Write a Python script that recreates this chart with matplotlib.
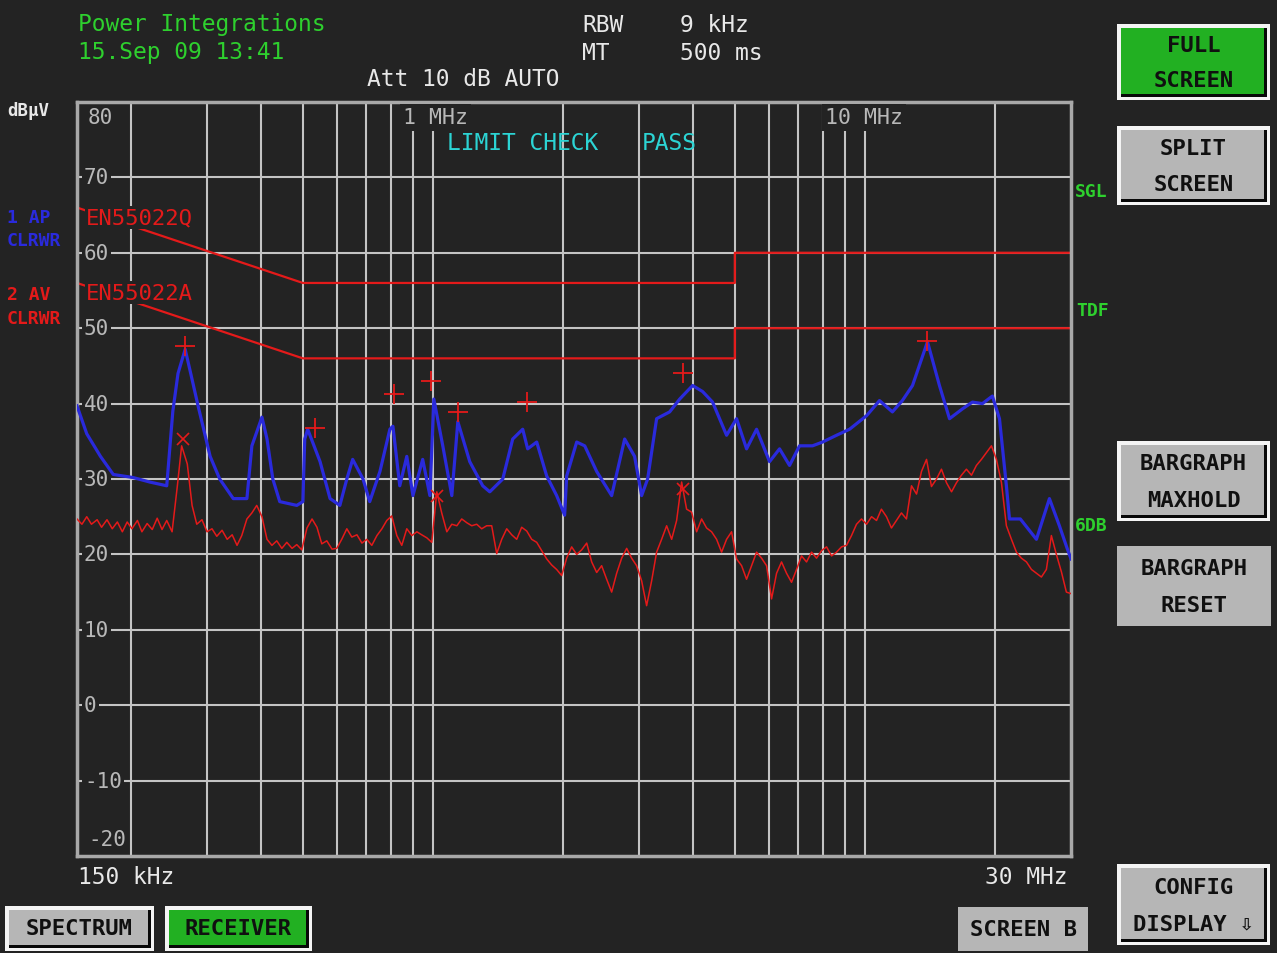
import matplotlib
matplotlib.use("Agg")
import matplotlib.pyplot as plt
from matplotlib.patches import Rectangle
from matplotlib.ticker import NullLocator

# ---------------- data ----------------
# Peak detector trace (1 AP CLRWR), frequency in MHz, level in dBuV
peak_freq_mhz = [0.150, 0.158, 0.170, 0.182, 0.202, 0.221, 0.242, 0.250, 0.257, 0.267,
                 0.275, 0.286, 0.305, 0.321, 0.345, 0.371, 0.381, 0.402, 0.413, 0.426,
                 0.442, 0.484, 0.500, 0.505, 0.513, 0.548, 0.578, 0.609, 0.632, 0.652,
                 0.689, 0.714, 0.754, 0.795, 0.808, 0.838, 0.870, 0.899, 0.947, 0.984,
                 1.005, 1.054, 1.106, 1.142, 1.217, 1.304, 1.354, 1.451, 1.530, 1.614,
                 1.657, 1.739, 1.834, 1.934, 2.018, 2.040, 2.152, 2.246, 2.394, 2.593,
                 2.779, 2.930, 3.042, 3.141, 3.295, 3.532, 3.726, 3.992, 4.210, 4.440,
                 4.784, 5.046, 5.322, 5.614, 6.016, 6.345, 6.692, 7.058, 7.565, 7.979,
                 8.597, 9.215, 10.09, 10.81, 11.58, 12.21, 12.89, 13.96, 14.88, 15.70,
                 16.82, 17.74, 18.71, 19.73, 20.49, 21.26, 21.61, 22.90, 24.95, 26.74,
                 28.20, 29.43, 30.0]
peak_dbuv = [39.7, 36.0, 33.0, 30.6, 30.2, 29.6, 29.1, 39.0, 44.0, 47.2,
             44.0, 39.7, 33.0, 30.0, 27.4, 27.4, 34.4, 38.2, 35.3, 30.0,
             27.0, 26.5, 27.0, 35.3, 36.6, 32.3, 27.4, 26.5, 30.0, 32.6,
             30.0, 27.0, 31.0, 36.6, 37.0, 29.1, 33.0, 27.8, 32.6, 27.8,
             40.6, 34.4, 27.8, 37.6, 32.3, 29.1, 28.3, 30.0, 35.3, 36.6,
             34.0, 34.9, 30.4, 27.8, 25.2, 30.4, 34.9, 34.4, 31.0, 27.8,
             35.3, 33.0, 27.8, 30.0, 38.0, 38.9, 40.6, 42.4, 41.6, 40.2,
             35.8, 38.0, 34.0, 36.6, 32.3, 34.0, 31.8, 34.4, 34.4, 34.9,
             35.8, 36.6, 38.4, 40.4, 38.9, 40.4, 42.4, 48.2, 42.4, 38.0,
             39.3, 40.2, 40.0, 41.0, 38.0, 29.1, 24.7, 24.7, 22.0, 27.4,
             23.8, 20.7, 19.4]

# Average detector trace (2 AV CLRWR)
avg_freq_mhz = [0.150, 0.154, 0.158, 0.162, 0.167, 0.171, 0.176, 0.181, 0.186, 0.191,
                0.196, 0.201, 0.207, 0.212, 0.218, 0.224, 0.230, 0.236, 0.242, 0.249,
                0.256, 0.262, 0.270, 0.277, 0.284, 0.292, 0.300, 0.308, 0.316, 0.325,
                0.334, 0.343, 0.352, 0.361, 0.371, 0.381, 0.391, 0.402, 0.413, 0.424,
                0.435, 0.447, 0.459, 0.472, 0.484, 0.497, 0.511, 0.525, 0.539, 0.553,
                0.568, 0.584, 0.599, 0.615, 0.632, 0.649, 0.667, 0.685, 0.703, 0.722,
                0.742, 0.762, 0.782, 0.803, 0.825, 0.847, 0.870, 0.894, 0.918, 0.942,
                0.968, 0.994, 1.021, 1.048, 1.077, 1.106, 1.136, 1.166, 1.198, 1.230,
                1.263, 1.297, 1.332, 1.368, 1.405, 1.443, 1.482, 1.522, 1.563, 1.605,
                1.649, 1.693, 1.739, 1.786, 1.834, 1.883, 1.934, 1.986, 2.040, 2.095,
                2.152, 2.210, 2.270, 2.331, 2.394, 2.458, 2.525, 2.593, 2.663, 2.735,
                2.809, 2.884, 2.962, 3.042, 3.124, 3.209, 3.295, 3.384, 3.476, 3.570,
                3.666, 3.765, 3.866, 3.971, 4.078, 4.188, 4.301, 4.417, 4.536, 4.659,
                4.784, 4.914, 5.046, 5.183, 5.322, 5.466, 5.614, 5.765, 5.921, 6.081,
                6.245, 6.413, 6.586, 6.764, 6.947, 7.134, 7.327, 7.525, 7.728, 7.936,
                8.151, 8.371, 8.597, 8.829, 9.067, 9.312, 9.563, 9.821, 10.09, 10.36,
                10.64, 10.92, 11.22, 11.52, 11.83, 12.15, 12.48, 12.82, 13.17, 13.52,
                13.89, 14.26, 14.65, 15.04, 15.45, 15.87, 16.29, 16.73, 17.18, 17.65,
                18.12, 18.61, 19.12, 19.63, 20.16, 20.71, 21.26, 21.84, 22.43, 23.03,
                23.66, 24.30, 24.95, 25.62, 26.31, 27.02, 27.75, 28.50, 29.27, 30.0]
avg_dbuv = [24.7, 24.0, 25.0, 24.0, 24.6, 23.6, 24.6, 23.4, 24.3, 23.0,
            24.3, 23.4, 24.5, 23.0, 24.1, 23.3, 24.8, 23.3, 24.5, 23.0,
            29.0, 34.4, 32.0, 26.5, 24.0, 24.6, 23.0, 23.4, 22.4, 23.2,
            22.0, 22.6, 21.2, 22.5, 24.7, 25.5, 26.5, 25.0, 22.0, 21.2,
            21.8, 20.8, 21.6, 20.8, 21.3, 20.6, 23.5, 24.7, 23.6, 21.4,
            21.8, 20.7, 20.8, 22.0, 23.4, 22.3, 22.6, 21.5, 22.0, 21.2,
            22.5, 23.4, 24.5, 25.1, 22.5, 21.2, 23.4, 22.5, 23.0, 22.6,
            22.2, 21.6, 28.3, 25.5, 23.0, 24.0, 23.8, 24.7, 24.2, 23.8,
            24.0, 23.4, 23.8, 23.8, 20.1, 22.0, 23.4, 22.6, 22.0, 23.6,
            23.1, 22.0, 21.6, 20.5, 19.4, 18.6, 18.0, 17.2, 19.5, 21.0,
            20.0, 20.6, 21.5, 19.0, 17.6, 18.5, 16.7, 15.0, 17.5, 19.5,
            20.8, 19.5, 18.5, 16.5, 13.2, 16.5, 20.3, 22.0, 23.8, 22.0,
            24.5, 29.6, 26.0, 25.6, 23.0, 24.7, 23.5, 23.0, 22.0, 20.3,
            22.0, 23.0, 19.4, 18.5, 16.7, 18.5, 20.3, 19.5, 18.5, 14.1,
            17.5, 19.0, 17.5, 16.3, 18.0, 19.8, 19.0, 20.3, 19.5, 20.5,
            21.0, 19.8, 20.3, 21.0, 21.2, 22.5, 24.0, 24.7, 24.0, 25.0,
            24.5, 26.0, 25.0, 23.5, 24.5, 25.5, 24.7, 29.1, 28.0, 31.0,
            32.6, 29.0, 30.0, 31.3, 29.5, 28.3, 29.5, 30.5, 31.3, 30.5,
            31.8, 32.6, 33.5, 34.4, 32.6, 29.5, 23.8, 22.0, 20.3, 19.5,
            19.0, 18.0, 17.5, 17.0, 18.0, 22.5, 20.0, 17.7, 15.0, 14.8]

# EN55022 class B limit lines
limit_freq_mhz = [0.15, 0.5, 5.0, 5.0, 30.0]
qp_limit_dbuv = [66, 56, 56, 60, 60]
av_limit_dbuv = [56, 46, 46, 50, 50]

# Final-measurement markers
peak_mark_freq = [0.267, 0.533, 0.812, 0.990, 1.142, 1.649, 3.785, 13.96]
peak_mark_dbuv = [47.7, 36.7, 41.3, 43.0, 38.9, 40.2, 44.0, 48.3]
avg_mark_freq = [0.264, 1.021, 3.785]
avg_mark_dbuv = [35.3, 27.7, 28.7]

grid_freq_mhz = [0.2, 0.3, 0.4, 0.5, 0.6, 0.7, 0.8, 0.9, 1, 2, 3, 4, 5, 6, 7, 8, 9, 10, 20]
y_grid = [-10, 0, 10, 20, 30, 40, 50, 60, 70]
y_tick_labels = ["-10", "0", "10", "20", "30", "40", "50", "60", "70"]

# ---------------- style ----------------
W, H = 1277, 954
BG = "#232323"
GRID = "#C4C4C4"
AXTXT = "#B8B8B8"
WHITE = "#E8E8E8"
GREEN = "#2ED02E"
CYAN = "#2CD4D4"
BLUE = "#2A2ADC"
RED = "#E41A1A"
MONO = ["DejaVu Sans Mono", "DejaVu Sans"]


def fx(x):
    return x / W


def fy(y):
    return 1 - y / H


fig = plt.figure(figsize=(W / 100, H / 100), dpi=100, facecolor=BG)
ax = fig.add_axes([fx(77), fy(857), 994 / W, 754 / H])
ax.set_facecolor(BG)
ax.set_xscale("log")
ax.set_xlim(0.15, 30)
ax.set_ylim(-20, 80)
ax.set_xticks(grid_freq_mhz)
ax.xaxis.set_minor_locator(NullLocator())
ax.set_yticks(y_grid)
ax.tick_params(which="both", length=0, labelbottom=False, labelleft=False)
ax.set_axisbelow(True)
ax.grid(True, color=GRID, lw=1.5)
for s in ax.spines.values():
    s.set_color("#A8A8A8")
    s.set_linewidth(2.5)

tr = ax.get_yaxis_transform()  # x in axes fraction, y in data

# y labels inside the plot
for v, lab in zip(y_grid, y_tick_labels):
    ax.text(0.007, v, lab, transform=tr, ha="left", va="center", color=AXTXT,
            fontsize=15, family=MONO, zorder=3,
            bbox=dict(fc=BG, ec="none", pad=1.6))
ax.text(0.011, 78, "80", transform=tr, ha="left", va="center", color=AXTXT,
        fontsize=15, family=MONO, zorder=3, bbox=dict(fc=BG, ec="none", pad=1.6))
ax.text(0.011, -17.7, "-20", transform=tr, ha="left", va="center", color=AXTXT,
        fontsize=15, family=MONO, zorder=3, bbox=dict(fc=BG, ec="none", pad=1.6))
ax.text(0.328, 78, "1 MHz", transform=tr, ha="left", va="center", color=AXTXT,
        fontsize=15.5, family=MONO, zorder=3, bbox=dict(fc=BG, ec="none", pad=2.5))
ax.text(0.7525, 78, "10 MHz", transform=tr, ha="left", va="center", color=AXTXT,
        fontsize=15.5, family=MONO, zorder=3, bbox=dict(fc=BG, ec="none", pad=2.5))
ax.text(0.372, 74.6, "LIMIT CHECK", transform=tr, ha="left", va="center", color=CYAN,
        fontsize=16.5, family=MONO, zorder=3)
ax.text(0.568, 74.6, "PASS", transform=tr, ha="left", va="center", color=CYAN,
        fontsize=16.5, family=MONO, zorder=3)

# limit lines
ax.plot(limit_freq_mhz, qp_limit_dbuv, color=RED, lw=1.6, zorder=2)
ax.plot(limit_freq_mhz, av_limit_dbuv, color=RED, lw=1.6, zorder=2)
ax.text(0.009, 64.7, "EN55022Q", transform=tr, ha="left", va="center", color=RED,
        fontsize=16, family=MONO, zorder=4, bbox=dict(fc=BG, ec="none", pad=1.0))
ax.text(0.009, 54.7, "EN55022A", transform=tr, ha="left", va="center", color=RED,
        fontsize=16, family=MONO, zorder=4, bbox=dict(fc=BG, ec="none", pad=1.0))

# traces
ax.plot(avg_freq_mhz, avg_dbuv, color=RED, lw=1.1, zorder=5)
ax.plot(peak_freq_mhz, peak_dbuv, color=BLUE, lw=2.3, zorder=6)
ax.plot(peak_mark_freq, peak_mark_dbuv, ls="none", marker="+", ms=15, mew=1.3,
        color=RED, zorder=7)
ax.plot(avg_mark_freq, avg_mark_dbuv, ls="none", marker="x", ms=8, mew=1.2,
        color=RED, zorder=7)


# ---------------- surrounding screen text ----------------
def ftext(x, y, s, color=WHITE, size=16.5, weight="normal", ha="left"):
    fig.text(fx(x), fy(y), s, color=color, fontsize=size, family=MONO,
             weight=weight, ha=ha, va="center")


ftext(78, 25, "Power Integrations", GREEN)
ftext(78, 53, "15.Sep 09 13:41", GREEN)
ftext(582, 25, "RBW")
ftext(680, 25, "9 kHz")
ftext(582, 53, "MT")
ftext(680, 53, "500 ms")
ftext(367, 80, "Att 10 dB AUTO")
ftext(78, 878, "150 kHz")
ftext(985, 878, "30 MHz")

ftext(7, 111, "dBµV", WHITE, 12.5, "bold")
ftext(7, 218, "1 AP", BLUE, 13, "bold")
ftext(7, 241, "CLRWR", BLUE, 13, "bold")
ftext(7, 295, "2 AV", RED, 13, "bold")
ftext(7, 319, "CLRWR", RED, 13, "bold")
ftext(1075, 192, "SGL", GREEN, 13, "bold")
ftext(1076, 311, "TDF", GREEN, 13, "bold")
ftext(1075, 526, "6DB", GREEN, 13, "bold")


def rect(x0, y0, x1, y1, color):
    fig.add_artist(Rectangle((fx(x0), fy(y1)), (x1 - x0) / W, (y1 - y0) / H,
                             transform=fig.transFigure, facecolor=color,
                             edgecolor="none"))


def button(x0, y0, x1, y1, lines, fill, border=True):
    if border:
        rect(x0, y0, x1, y1, "#F4F4F4")
        rect(x0 + 4, y0 + 4, x1 - 3, y1 - 3, "#080808")
        rect(x0 + 4, y0 + 4, x1 - 6, y1 - 6, fill)
    else:
        rect(x0, y0, x1, y1, fill)
    cx = (x0 + x1) / 2
    n = len(lines)
    for i, s in enumerate(lines):
        if n == 1:
            yy = (y0 + y1) / 2
        else:
            yy = y0 + (y1 - y0) * (0.28 + 0.46 * i)
        fig.text(fx(cx), fy(yy), s, color="#101010", fontsize=16, family=MONO,
                 weight="bold", ha="center", va="center")


GRAYB = "#B6B6B6"
GREENB = "#22B022"
button(1117, 25, 1270, 101, ["FULL", "SCREEN"], GREENB)
button(1117, 127, 1270, 206, ["SPLIT", "SCREEN"], GRAYB)
button(1117, 442, 1270, 522, ["BARGRAPH", "MAXHOLD"], GRAYB)
button(1117, 547, 1271, 627, ["BARGRAPH", "RESET"], GRAYB, border=False)
button(1117, 865, 1270, 946, ["CONFIG", "DISPLAY ⇩"], GRAYB)
button(958, 908, 1088, 952, ["SCREEN B"], GRAYB, border=False)
button(5, 907, 154, 952, ["SPECTRUM"], GRAYB)
button(165, 907, 312, 952, ["RECEIVER"], GREENB)

fig.savefig("out.png", dpi=100, facecolor=BG)
